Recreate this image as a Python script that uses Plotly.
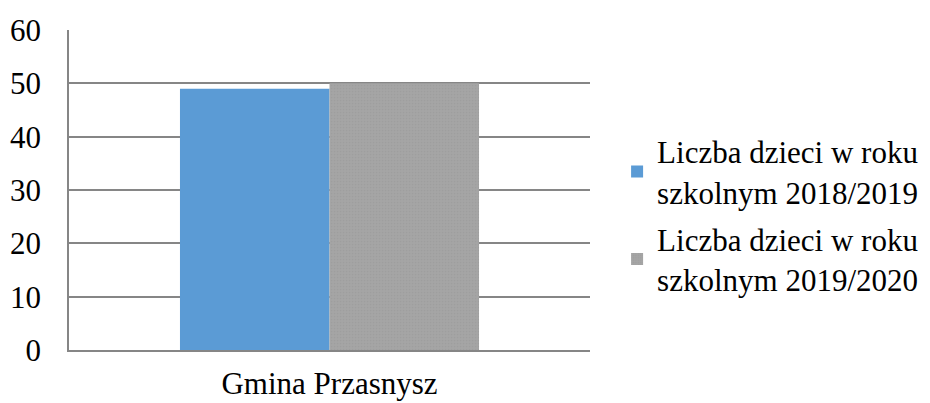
import plotly.graph_objects as go

categories = ["Gmina Przasnysz"]
series_names = ["Liczba dzieci w roku<br>szkolnym 2018/2019", "Liczba dzieci w roku<br>szkolnym 2019/2020"]
values_2018 = [49]
values_2019 = [50]
y_ticks = [0, 10, 20, 30, 40, 50, 60]

FONT = "Liberation Serif"

fig = go.Figure()
fig.add_trace(go.Bar(x=categories, y=values_2018, name=series_names[0], legendgroup="a",
                     marker=dict(color="#5B9BD5", line=dict(width=0))))
fig.add_trace(go.Bar(x=categories, y=values_2019, name=series_names[1], legendgroup="b",
                     marker=dict(color="#A5A5A5", line=dict(width=0),
                                 pattern=dict(shape=".", fgcolor="#979797", size=3, solidity=0.25))))

fig.update_layout(
    width=930, height=403,
    margin=dict(l=61, r=348, t=22, b=61),
    paper_bgcolor="white", plot_bgcolor="white",
    barmode="group", bargap=0.426, bargroupgap=0,
    font=dict(family=FONT, size=31, color="#000000"),
    legend=dict(x=1.052, y=0.42, xanchor="left", yanchor="middle",
                font=dict(family=FONT, size=31, color="#000000"),
                itemwidth=30, tracegroupgap=4),
    showlegend=True,
)
fig.update_yaxes(range=[0, 60], tickvals=y_ticks, showgrid=True, gridcolor="#868686", gridwidth=1.5,
                 showline=True, linecolor="#868686", linewidth=1.5, zeroline=False, automargin=False,
                 ticks="", ticklabelstandoff=20, tickfont=dict(family=FONT, size=31))
fig.update_xaxes(showline=True, linecolor="#868686", linewidth=1.5, ticks="", automargin=False,
                 ticklabelstandoff=5, tickfont=dict(family=FONT, size=31))

fig.write_html("out.html")
